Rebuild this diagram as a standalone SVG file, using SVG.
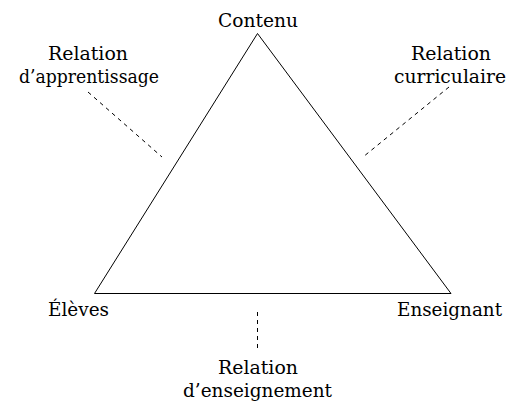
<svg xmlns="http://www.w3.org/2000/svg" width="507" height="404" viewBox="0 0 507 404">
<style>
text{font-family:"DejaVu Serif","Liberation Serif",serif;font-size:19px;fill:#000;text-anchor:middle}
.edge{fill:none;stroke:#000;stroke-width:1}
.rel{fill:none;stroke:#000;stroke-width:1;stroke-dasharray:4 4}
</style>
<rect width="507" height="404" fill="#fff"/>
<g id="connectors">
<polygon class="edge" points="257.5,33.5 94.5,293.5 451,293.5"/>
<line class="rel" x1="88" y1="92" x2="162" y2="157"/>
<line class="rel" x1="449" y1="87" x2="363" y2="157"/>
<line class="rel" x1="257.5" y1="312" x2="257.5" y2="350"/>
</g>
<g id="contenu"><text x="258" y="27" textLength="80" lengthAdjust="spacingAndGlyphs">Contenu</text></g>
<g id="eleves"><text x="78.5" y="316" textLength="61" lengthAdjust="spacingAndGlyphs">Élèves</text></g>
<g id="enseignant"><text x="449.5" y="316" textLength="105" lengthAdjust="spacingAndGlyphs">Enseignant</text></g>
<g id="rel-apprentissage"><text x="88" y="60" textLength="80" lengthAdjust="spacingAndGlyphs">Relation</text><text x="89" y="83" textLength="140" lengthAdjust="spacingAndGlyphs">d’apprentissage</text></g>
<g id="rel-curriculaire"><text x="451" y="60" textLength="80" lengthAdjust="spacingAndGlyphs">Relation</text><text x="450" y="83" textLength="112" lengthAdjust="spacingAndGlyphs">curriculaire</text></g>
<g id="rel-enseignement"><text x="258" y="374" textLength="80" lengthAdjust="spacingAndGlyphs">Relation</text><text x="257.5" y="397" textLength="149" lengthAdjust="spacingAndGlyphs">d’enseignement</text></g>
</svg>
